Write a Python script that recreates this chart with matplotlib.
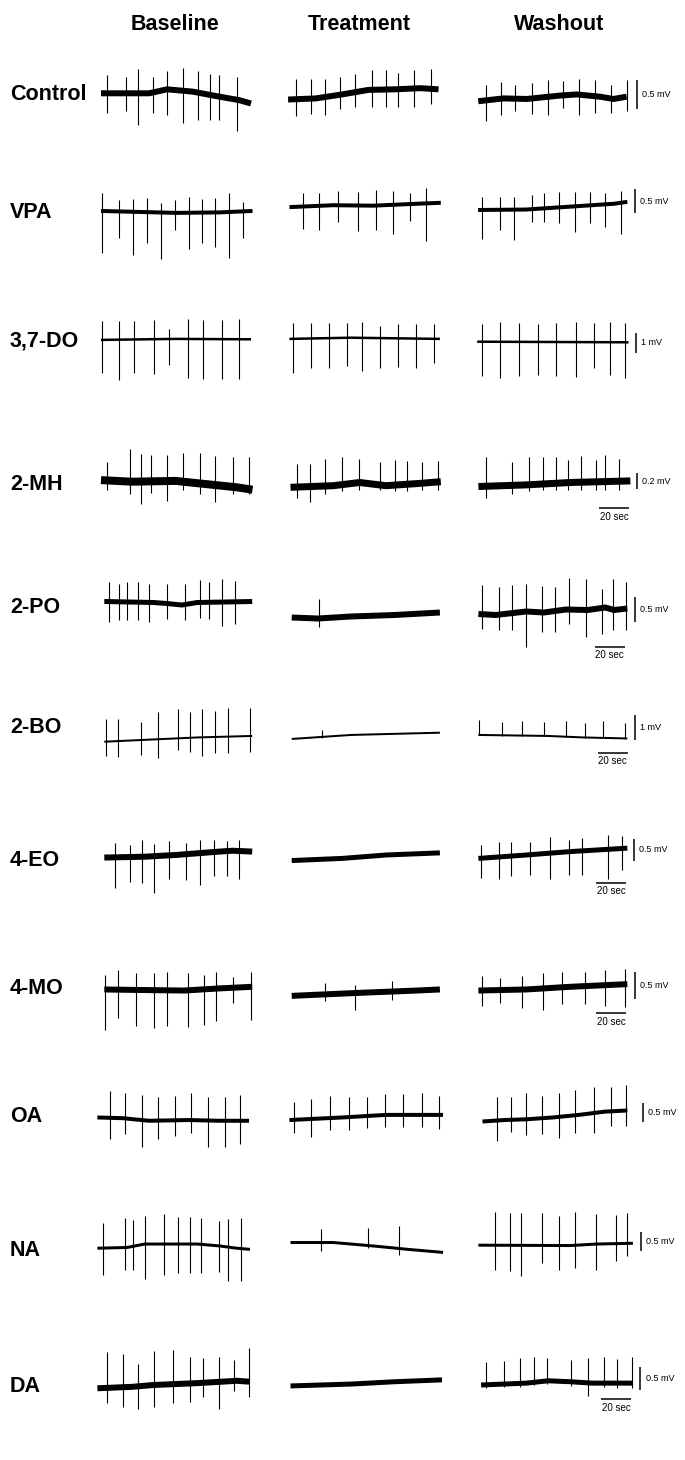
import numpy as np
import matplotlib.pyplot as plt

plt.rcParams['font.family'] = ['Liberation Sans', 'DejaVu Sans']

conditions = ["Baseline", "Treatment", "Washout"]
compounds = ["Control", "VPA", "3,7-DO", "2-MH", "2-PO", "2-BO",
             "4-EO", "4-MO", "OA", "NA", "DA"]
scale_mv = [0.5, 0.5, 1, 0.2, 0.5, 1, 0.5, 0.5, 0.5, 0.5, 0.5]
time_bar_sec = 20

# slow membrane level per column: (time s, mV)
control_level = [
    ([4, 36, 48, 65, 83, 96, 104], [0.06, 0.06, 0.13, 0.09, 0.0, -0.06, -0.12]),
    ([3.4, 21.9, 39.4, 56.9, 74.5, 92, 103.7], [-0.05, -0.03, 0.04, 0.12, 0.13, 0.15, 0.13]),
    ([5.5, 22.2, 37.8, 60, 71.1, 86.7, 95.6, 104.4], [-0.08, -0.03, -0.04, 0.02, 0.04, 0.0, -0.04, 0.0]),
]
# spikes per column: (time s, top mV, bottom mV)
control_spikes = [
    ([8.3, 20.6, 28.8, 38.4, 47.8, 58.9, 68.8, 76.4, 82.9, 94.5],
     [0.38, 0.34, 0.48, 0.35, 0.45, 0.5, 0.45, 0.4, 0.38, 0.35],
     [-0.29, -0.26, -0.5, -0.29, -0.32, -0.47, -0.41, -0.41, -0.41, -0.6]),
    ([8.7, 18.4, 28.3, 37.9, 48.2, 59.3, 68.7, 76.5, 87.6, 98.8],
     [0.32, 0.32, 0.32, 0.35, 0.4, 0.47, 0.47, 0.42, 0.47, 0.48],
     [-0.34, -0.31, -0.32, -0.22, -0.19, -0.18, -0.19, -0.18, -0.18, -0.13]),
    ([10.5, 20.5, 30, 41.5, 52, 62, 72.5, 83.3, 93.8, 104.5],
     [0.2, 0.26, 0.21, 0.25, 0.29, 0.27, 0.31, 0.29, 0.21, 0.29],
     [-0.42, -0.32, -0.25, -0.31, -0.32, -0.2, -0.32, -0.29, -0.29, -0.26]),
]

vpa_level = [
    ([4, 54, 83, 105], [-0.02, -0.06, -0.05, -0.02]),
    ([4.3, 33.5, 59.9, 89.1, 105.2], [0.06, 0.1, 0.09, 0.13, 0.15]),
    ([5.4, 37.5, 66.8, 96, 104.9], [0.0, 0.01, 0.07, 0.13, 0.17]),
]
vpa_spikes = [
    ([4.8, 16.2, 25.3, 34.6, 44.3, 53.6, 62.4, 71.2, 79.9, 89.3, 98.4],
     [0.35, 0.21, 0.23, 0.24, 0.14, 0.21, 0.28, 0.23, 0.26, 0.36, 0.17],
     [-0.89, -0.59, -0.94, -0.69, -1.03, -0.42, -0.82, -0.69, -0.78, -1.01, -0.59]),
    ([13.1, 24.2, 36.5, 49.7, 61.9, 73.6, 84.7, 95],
     [0.35, 0.36, 0.4, 0.38, 0.42, 0.4, 0.35, 0.45],
     [-0.4, -0.42, -0.24, -0.43, -0.42, -0.49, -0.22, -0.64]),
    ([8.3, 20, 29.3, 41, 49.2, 59.5, 69.7, 79.9, 90.2, 100.4],
     [0.28, 0.28, 0.28, 0.31, 0.35, 0.38, 0.38, 0.38, 0.35, 0.4],
     [-0.61, -0.42, -0.63, -0.26, -0.24, -0.28, -0.45, -0.28, -0.35, -0.49]),
]

do37_level = [
    ([4, 53.6, 104], [-0.03, 0.02, 0.0]),
    ([4.3, 45.3, 104.6], [0.02, 0.08, 0.02]),
    ([4.8, 105.7], [-0.12, -0.15]),
]
do37_spikes = [
    ([4.8, 16.2, 25.9, 39, 49.2, 61.8, 72, 84.9, 96],
     [0.93, 0.93, 0.93, 0.97, 0.5, 1.0, 0.97, 0.97, 1.03],
     [-1.7, -2.03, -1.7, -1.73, -1.28, -1.95, -1.98, -1.98, -2.0]),
    ([6.7, 18.9, 30.6, 42.9, 52.5, 64.5, 76.5, 88.5, 100.8],
     [0.8, 0.8, 0.8, 0.83, 0.85, 0.68, 0.77, 0.75, 0.75],
     [-1.67, -1.45, -1.45, -1.33, -1.58, -1.45, -1.37, -1.45, -1.17]),
    ([8.3, 20, 32.6, 45.4, 57.4, 70.6, 82.9, 93.1, 103.3],
     [0.75, 0.88, 0.8, 0.75, 0.8, 0.88, 0.8, 0.88, 0.83],
     [-1.83, -1.95, -1.83, -1.78, -1.83, -1.87, -1.45, -1.78, -1.95]),
]

mh2_level = [
    ([4, 24.4, 53.6, 74.1, 94.5, 105], [0.04, 0.02, 0.03, -0.01, -0.05, -0.08]),
    ([5, 33.5, 51.1, 68.7, 92, 105.2], [-0.05, -0.03, 0.01, -0.03, 0.0, 0.02]),
    ([5.6, 37.5, 66.8, 106.9], [-0.04, -0.02, 0.01, 0.03]),
]
mh2_spikes = [
    ([7.7, 23.2, 30.8, 37.5, 47.8, 58.9, 70.3, 79.7, 92.2, 102.5],
     [0.27, 0.43, 0.37, 0.35, 0.35, 0.38, 0.38, 0.34, 0.33, 0.33],
     [-0.08, -0.13, -0.26, -0.12, -0.22, -0.08, -0.13, -0.24, -0.13, -0.13]),
    ([9.6, 18, 28.3, 39.4, 50.5, 64.5, 74.5, 82.7, 92.6, 103.1],
     [0.24, 0.24, 0.3, 0.33, 0.3, 0.26, 0.29, 0.28, 0.27, 0.28],
     [-0.18, -0.23, -0.13, -0.1, -0.08, -0.08, -0.1, -0.1, -0.08, -0.08]),
    ([10.7, 28.2, 39.6, 48.7, 57.4, 65.3, 74.1, 83.7, 90.2, 99.5],
     [0.33, 0.27, 0.33, 0.33, 0.33, 0.29, 0.34, 0.29, 0.35, 0.3],
     [-0.19, -0.13, -0.1, -0.08, -0.08, -0.08, -0.08, -0.08, -0.08, -0.08]),
]

po2_level = [
    ([6.2, 39, 47.8, 58, 68.2, 104.8], [0.17, 0.15, 0.13, 0.1, 0.15, 0.17]),
    ([5.8, 23.3, 45.3, 74.5, 104.6], [-0.15, -0.17, -0.13, -0.1, -0.05]),
    ([5.6, 17.1, 37.5, 49.2, 63.9, 78.5, 90.2, 96, 104.9],
     [-0.08, -0.1, -0.03, -0.05, 0.01, 0.0, 0.05, 0.0, 0.03]),
]
po2_spikes = [
    ([9.2, 16.2, 21.5, 28.8, 36.1, 47.8, 60.1, 70, 76.1, 84.9, 93.1],
     [0.57, 0.53, 0.57, 0.57, 0.53, 0.53, 0.53, 0.61, 0.57, 0.63, 0.59],
     [-0.23, -0.2, -0.2, -0.2, -0.23, -0.17, -0.19, -0.15, -0.17, -0.32, -0.27]),
    ([24.2], [0.23], [-0.33]),
    ([8.3, 19.1, 27.9, 37.5, 47.8, 56.5, 65.9, 77.6, 87.9, 95.5, 104.2],
     [0.5, 0.47, 0.5, 0.52, 0.48, 0.47, 0.65, 0.63, 0.43, 0.63, 0.57],
     [-0.37, -0.4, -0.4, -0.73, -0.43, -0.43, -0.27, -0.53, -0.47, -0.4, -0.4]),
]

bo2_level = [
    ([6.2, 39, 68.2, 104.8], [-0.2, -0.11, -0.03, 0.03]),
    ([5.8, 45.3, 104.6], [-0.09, 0.07, 0.16]),
    ([5.6, 52.1, 75.5, 104.9], [0.07, 0.03, -0.03, -0.07]),
]
bo2_spikes = [
    ([7.4, 15, 30.8, 41.9, 55.1, 63, 71.2, 79.9, 88.7, 103.3],
     [0.71, 0.71, 0.6, 0.97, 1.11, 0.97, 1.11, 1.03, 1.16, 1.16],
     [-0.77, -0.83, -0.73, -0.87, -0.53, -0.6, -0.77, -0.64, -0.67, -0.6]),
    ([26.2], [0.27], [-0.06]),
    ([6.3, 21.5, 34.6, 49.2, 63.9, 76.4, 88.7, 103.3],
     [0.67, 0.6, 0.64, 0.6, 0.63, 0.56, 0.63, 0.56],
     [0.06, 0.04, 0.03, 0.02, 0.0, -0.04, -0.05, -0.08]),
]

eo4_level = [
    ([6.2, 33.1, 53.6, 83, 91.7, 104.8], [-0.06, -0.04, 0.0, 0.08, 0.1, 0.08]),
    ([5.8, 39.4, 68.7, 104.6], [-0.13, -0.08, 0.0, 0.05]),
    ([5.6, 37.5, 66.8, 104.9], [-0.08, 0.0, 0.08, 0.16]),
]
eo4_spikes = [
    ([13.3, 23.2, 31.1, 39.6, 49.2, 60.9, 69.7, 79.4, 87.8, 96],
     [0.29, 0.23, 0.35, 0.26, 0.33, 0.27, 0.34, 0.35, 0.33, 0.35],
     [-0.78, -0.63, -0.66, -0.88, -0.57, -0.59, -0.7, -0.49, -0.49, -0.57]),
    ([], [], []),
    ([7.4, 19.1, 27.3, 39.9, 53.6, 65.9, 74.7, 91.7, 101],
     [0.23, 0.31, 0.31, 0.31, 0.41, 0.35, 0.39, 0.47, 0.45],
     [-0.55, -0.57, -0.49, -0.47, -0.57, -0.47, -0.47, -0.57, -0.35]),
]

mo4_level = [
    ([6.2, 30.2, 59.5, 83, 104.8], [0.01, 0.0, -0.01, 0.03, 0.06]),
    ([5.8, 45.3, 89.1, 104.6], [-0.11, -0.06, -0.01, 0.01]),
    ([5.6, 37.5, 66.8, 104.9], [-0.01, 0.01, 0.06, 0.11]),
]
mo4_spikes = [
    ([6.9, 15.6, 27.3, 39, 47.8, 61.8, 72.6, 80.5, 91.7, 103.9],
     [0.28, 0.38, 0.31, 0.31, 0.33, 0.31, 0.28, 0.34, 0.25, 0.33],
     [-0.75, -0.53, -0.68, -0.72, -0.68, -0.69, -0.66, -0.59, -0.24, -0.57]),
    ([28.3, 48.2, 72.5], [0.14, 0.09, 0.17], [-0.2, -0.38, -0.19]),
    ([7.7, 20, 34.6, 48.4, 61.5, 76.4, 90.2, 103.3],
     [0.26, 0.23, 0.26, 0.31, 0.34, 0.33, 0.38, 0.39],
     [-0.3, -0.25, -0.34, -0.38, -0.26, -0.26, -0.3, -0.31]),
]

oa_level = [
    ([1.6, 18.5, 36.1, 62.4, 83, 102.7], [0.05, 0.03, -0.04, -0.02, -0.04, -0.04]),
    ([4.3, 39.4, 68.7, 106.7], [-0.02, 0.05, 0.12, 0.12]),
    ([8.3, 22.9, 37.5, 55.1, 72.6, 90.2, 104.9], [-0.06, -0.02, 0.0, 0.05, 0.12, 0.21, 0.24]),
]
oa_spikes = [
    ([10.3, 20.3, 31.1, 41.9, 53.6, 63.9, 75, 86.4, 96.6],
     [0.78, 0.71, 0.66, 0.62, 0.64, 0.71, 0.62, 0.62, 0.66],
     [-0.55, -0.4, -0.75, -0.54, -0.45, -0.38, -0.76, -0.75, -0.67]),
    ([7.3, 18.4, 31.2, 43.8, 56.3, 68.1, 79.7, 92.6, 103.7],
     [0.48, 0.55, 0.64, 0.62, 0.6, 0.69, 0.68, 0.71, 0.64],
     [-0.38, -0.47, -0.29, -0.29, -0.25, -0.22, -0.22, -0.22, -0.27]),
    ([17.7, 27.3, 37.5, 47.8, 59.5, 69.7, 82.9, 93.7, 104.2],
     [0.62, 0.6, 0.71, 0.64, 0.73, 0.8, 0.89, 0.89, 0.94],
     [-0.58, -0.34, -0.43, -0.4, -0.52, -0.36, -0.38, -0.18, -0.18]),
]

na_level = [
    ([1.6, 21.5, 33.1, 68.2, 83, 94.5, 103.3], [-0.04, -0.02, 0.07, 0.07, 0.02, -0.04, -0.07]),
    ([5, 33.5, 59.9, 83.3, 106.7], [0.11, 0.11, 0.02, -0.07, -0.15]),
    ([5.6, 66.8, 84.3, 108.6], [0.04, 0.03, 0.07, 0.09]),
]
na_spikes = [
    ([5.4, 20.3, 25.3, 33.1, 46.3, 55.1, 63, 70.6, 82.9, 88.7, 97.5],
     [0.63, 0.75, 0.7, 0.81, 0.86, 0.79, 0.77, 0.75, 0.68, 0.72, 0.75],
     [-0.75, -0.61, -0.61, -0.86, -0.75, -0.68, -0.7, -0.7, -0.66, -0.89, -0.89]),
    ([25.3, 56.9, 77.4], [0.46, 0.48, 0.54], [-0.11, -0.04, -0.22]),
    ([16.5, 26.4, 34, 47.8, 59.5, 70.3, 83.7, 97.5, 104.8],
     [0.92, 0.89, 0.89, 0.89, 0.81, 0.92, 0.86, 0.83, 0.88],
     [-0.6, -0.63, -0.77, -0.42, -0.6, -0.57, -0.61, -0.37, -0.25]),
]

da_level = [
    ([1.6, 24.4, 39, 68.2, 94.5, 103.3], [-0.07, -0.04, 0.0, 0.04, 0.09, 0.07]),
    ([5, 45.3, 74.5, 106], [-0.02, 0.02, 0.07, 0.11]),
    ([7.4, 37.5, 52.1, 66.8, 81.4, 108.6], [0.0, 0.04, 0.09, 0.07, 0.04, 0.04]),
]
da_spikes = [
    ([8.3, 18.5, 28.8, 39, 52.1, 63, 72, 82.9, 92.5, 102.7],
     [0.71, 0.66, 0.46, 0.73, 0.76, 0.59, 0.57, 0.61, 0.54, 0.8],
     [-0.39, -0.48, -0.51, -0.48, -0.38, -0.36, -0.26, -0.52, -0.12, -0.26]),
    ([], [], []),
    ([10.4, 22.9, 33.2, 42.8, 51.6, 67.4, 78.5, 89.6, 98.3, 107.7],
     [0.5, 0.52, 0.57, 0.59, 0.57, 0.54, 0.57, 0.59, 0.55, 0.59],
     [-0.07, -0.05, -0.04, 0.0, 0.02, -0.02, -0.24, -0.05, -0.06, -0.06]),
]

levels = [control_level, vpa_level, do37_level, mh2_level, po2_level, bo2_level,
          eo4_level, mo4_level, oa_level, na_level, da_level]
spikes = [control_spikes, vpa_spikes, do37_spikes, mh2_spikes, po2_spikes, bo2_spikes,
          eo4_spikes, mo4_spikes, oa_spikes, na_spikes, da_spikes]

# ---- layout (pixels) ----
W, H, DPI = 685, 1460, 100
col_left = [95, 283, 470]
px_per_s = 1.5
t_span = 120
half_h = 70
row_y = [96.7, 210, 339.3, 483.3, 610, 736.7, 855, 990, 1119.3, 1246.7, 1385]
px_per_mv = [56.7, 48, 20, 80, 50, 25, 42.7, 53.3, 36.7, 38, 46.7]
label_y = [94, 213, 341, 485, 607, 728, 860, 988, 1117, 1250, 1387]
trace_px = [[6, 6, 6], [4, 4, 4], [2.5, 2.5, 2.5], [8, 7, 7], [5, 6, 6], [2, 2, 2],
            [6, 5, 5], [6, 6, 6], [4, 4, 4], [3, 3, 3], [6, 5, 5]]
bar_t = [111.5, 110, 110.7, 111.2, 109.7, 109.7, 109.2, 109.7, 115, 114, 113.5]
bar_bottom = [-0.21, -0.07, -0.67, -0.075, -0.23, -0.13, -0.13, -0.16, -0.06, -0.11, -0.11]
# rows carrying a time bar: row -> (start s, level mV)
time_bar = {3: (86, -0.31), 4: (83, -0.73), 5: (85, -0.64), 6: (84, -0.65),
            7: (84, -0.44), 10: (87.5, -0.31)}

fig = plt.figure(figsize=(W / DPI, H / DPI), dpi=DPI)
fig.patch.set_facecolor('white')

header_x = [175, 359.5, 558.8]
for name, x in zip(conditions, header_x):
    fig.text(x / W, 1 - 24 / H, name, ha='center', va='center',
             fontsize=15.5, fontweight='bold')

for r, name in enumerate(compounds):
    fig.text(10 / W, 1 - label_y[r] / H, name, ha='left', va='center',
             fontsize=15.5, fontweight='bold')
    ppm = px_per_mv[r]
    for c in range(3):
        ax = fig.add_axes([col_left[c] / W, 1 - (row_y[r] + half_h) / H,
                           t_span * px_per_s / W, 2 * half_h / H])
        ax.set_xlim(0, t_span)
        ax.set_ylim(-half_h / ppm, half_h / ppm)
        ax.axis('off')

        t, v = levels[r][c]
        ax.plot(t, v, color='black', lw=trace_px[r][c] * 0.72,
                solid_capstyle='butt', solid_joinstyle='round')
        st, top, bot = spikes[r][c]
        if st:
            ax.vlines(st, bot, top, color='black', lw=0.8)

        if c == 2:
            b = bar_bottom[r]
            ax.plot([bar_t[r], bar_t[r]], [b, b + scale_mv[r]], color='black',
                    lw=1.1, clip_on=False, solid_capstyle='butt')
            mv_txt = ('%g mV' % scale_mv[r])
            ax.text(bar_t[r] + 3.5, b + scale_mv[r] / 2, mv_txt, ha='left',
                    va='center', fontsize=6.5, clip_on=False)
            if r in time_bar:
                t0, yb = time_bar[r]
                ax.plot([t0, t0 + time_bar_sec], [yb, yb], color='black',
                        lw=1.1, clip_on=False, solid_capstyle='butt')
                ax.annotate('%d sec' % time_bar_sec, (t0 + time_bar_sec / 2, yb),
                            xytext=(0, -2.5), textcoords='offset points',
                            ha='center', va='top', fontsize=7)

fig.savefig('out.png', dpi=DPI, facecolor='white')
